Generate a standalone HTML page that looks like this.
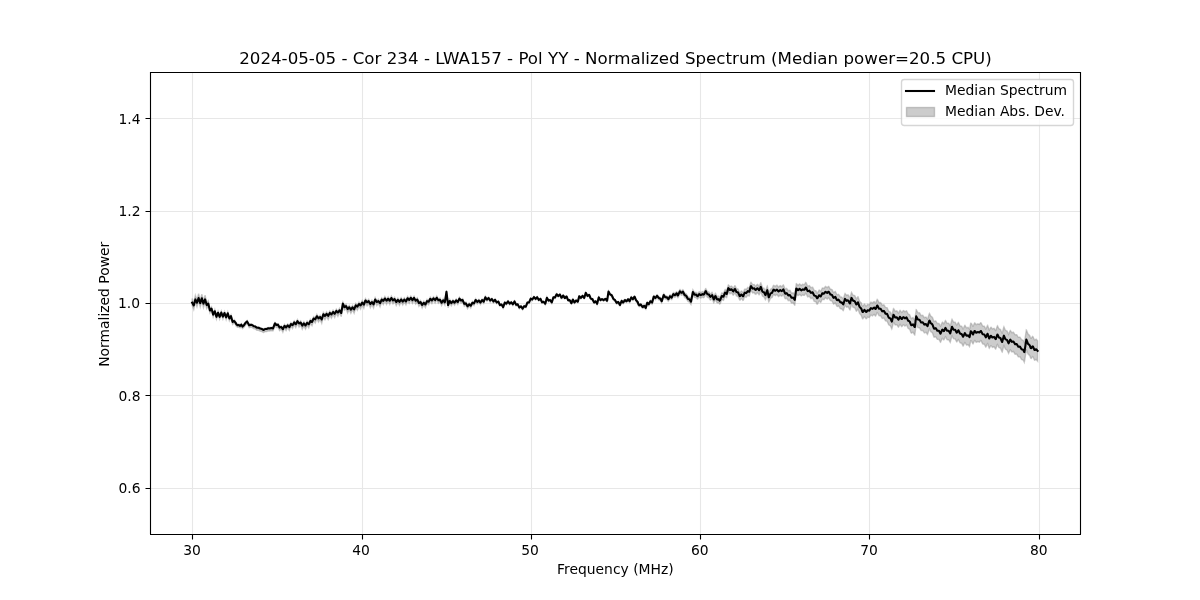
<!DOCTYPE html>
<html><head><meta charset="utf-8"><title>Normalized Spectrum</title>
<style>html,body{margin:0;padding:0;background:#fff;width:1200px;height:600px;overflow:hidden}svg{display:block;will-change:transform}</style>
</head><body>
<svg width="1200" height="600" viewBox="0 0 1200 600">
<rect x="0" y="0" width="1200" height="600" fill="#fff"/>
<path d="M192.5 72V534 M362.5 72V534 M531.5 72V534 M700.5 72V534 M869.5 72V534 M1039.5 72V534 M150 488.5H1080 M150 395.5H1080 M150 303.5H1080 M150 211.5H1080 M150 118.5H1080" fill="none" stroke="#b0b0b0" stroke-opacity="0.3" stroke-width="1.11"/>
<path d="M192.12 298.4 L193.74 302.63 L195.36 295.22 L196.98 299.95 L198.6 293.79 L200.22 300.27 L201.84 294.13 L203.46 300.8 L205.08 295.21 L206.7 302.54 L208.32 300.76 L209.94 309.14 L211.56 306.81 L213.18 313.43 L214.8 309.44 L216.42 315.64 L218.04 311 L219.66 315.68 L221.28 310.9 L222.9 315.61 L224.52 311.43 L226.14 316.27 L227.76 311.77 L229.38 317.52 L231 314.73 L232.62 320.96 L234.24 319.64 L235.86 322.1 L236.25 323.12 L237.48 324.06 L238.3 323.89 L239.1 324.09 L240 324.75 L240.72 324.24 L241.25 323.61 L242.34 325.19 L242.5 325.5 L243.96 324.16 L245 322.69 L245.58 321.87 L247.1 320.45 L247.2 320.68 L248.82 323.5 L249.2 324.35 L250.44 324.05 L250.8 323.79 L252.06 324.1 L253.3 325.02 L253.68 325.31 L255.3 325.74 L256.7 326.8 L256.92 326.91 L258.54 326.93 L260 327.66 L260.16 327.77 L261.78 328.09 L263.3 329.14 L263.4 329.13 L265.02 328.21 L266.64 328.09 L266.7 328.06 L268.26 327.4 L269.88 327.51 L270 327.46 L271.5 327.12 L272.9 327.56 L273.12 327.18 L274.74 322.9 L275 322.46 L276.36 324.04 L277.5 323.72 L277.98 323.67 L279.6 326.78 L281.22 325.65 L282.84 328.31 L284.46 324.46 L286.08 326.49 L287.7 323.9 L289.32 326.17 L290.94 322.46 L292.56 324.14 L294.18 320.8 L295.8 323.1 L297.42 319.48 L299.04 322.32 L300.66 320.81 L302.28 324.4 L303.9 321.66 L305.52 324.32 L307.14 321.1 L308.76 323.13 L310.38 319.18 L312 320.78 L313.62 316.66 L315.24 318.13 L316.86 314.37 L318.48 317.13 L320.1 315.15 L321.72 318.29 L323.34 312.36 L324.96 314.66 L326.58 311.93 L328.2 314.57 L329.82 311.04 L331.44 313.24 L333.06 310.07 L334.68 312.53 L336.3 309.05 L337.92 311.31 L339.54 308.35 L341.16 311.48 L341.25 311.48 L342.78 302.45 L342.9 302.06 L344.4 305.56 L344.6 305.48 L346.02 304.1 L347.64 307.85 L349.26 305.34 L350.88 308.33 L352.5 305.37 L354.12 308.2 L355.74 303.47 L357.36 305.3 L358.98 302.06 L360.6 304.14 L362.22 300.63 L363.84 303.45 L365.46 298.53 L367.08 301.01 L368.7 299.27 L370.32 302.84 L371.94 300.22 L373.56 303.03 L375.18 297.61 L376.8 300.71 L378.42 299.2 L380.04 301.96 L381.66 297.73 L383.28 299.66 L384.9 296.57 L386.52 299.49 L388.14 296.86 L389.76 299.49 L391.38 296.1 L393 299.14 L394.62 297.29 L396.24 300.76 L397.86 298.07 L399.48 300.71 L401.1 297.63 L402.72 300.42 L404.34 297.77 L405.96 300.24 L407.58 296.45 L409.2 298.68 L410.82 296.02 L412.44 298.94 L414.06 296.15 L415.68 299.53 L417.3 297.79 L418.92 301.84 L420.54 300.32 L422.16 303.76 L423.78 301.01 L425.4 303.26 L427.02 299.39 L428.64 300.58 L430.26 297.13 L431.88 299.33 L433.5 296.66 L435.12 299 L436.74 296.05 L438.36 299.19 L439.98 298.13 L441.6 301.64 L443.22 298.72 L444.84 301.22 L446.46 290.29 L448.08 303.93 L449.7 299.41 L451.32 301.99 L452.94 299.58 L454.56 301.57 L456.18 298.87 L457.8 300.97 L459.42 297.11 L461.04 299.53 L462.66 298.6 L464.28 302.84 L465.9 301.92 L467.52 305.29 L469.14 302.84 L470.76 304.76 L472.38 301.34 L474 302.45 L475.62 298.73 L477.24 301.04 L478.86 299.26 L480.48 301.75 L482.1 298.92 L483.72 300.93 L485.34 296.2 L486.96 298.84 L488.58 297 L490.2 299.88 L491.82 298.11 L493.44 300.94 L495.06 298.98 L496.68 301.9 L498.3 300.8 L499.92 304.5 L501.54 303.72 L503.16 306.62 L504.78 301.88 L506.4 303.22 L508.02 300.73 L509.64 303.2 L511.26 301.57 L512.88 303.83 L514.5 300.73 L516.12 304.29 L517.74 303.63 L519.36 307.04 L520.98 305.58 L522.6 308.12 L524.22 305.43 L525.84 306.17 L527.46 301.75 L529.08 301.91 L530.7 297.94 L532.32 299.01 L533.94 296.3 L535.56 298.45 L537.18 296.44 L538.8 299.43 L540.42 298.08 L542.04 301.71 L543.66 301.12 L545.28 303.28 L546.9 297.02 L548.52 300.11 L550.14 299.37 L551.76 301.82 L553.38 296.68 L555 296.93 L556.62 293.56 L558.24 295.54 L559.86 293.84 L561.48 297.15 L561.7 297.17 L563.1 294.91 L563.3 295.02 L564.72 297.46 L565 297.39 L566.34 295.9 L566.7 296.13 L567.96 299.39 L568.3 299.74 L569.58 299.48 L570 299.96 L571.2 302.38 L571.5 302.61 L572.82 299.07 L572.9 298.95 L574.44 301.8 L574.6 301.9 L576.06 299.85 L576.25 299.82 L577.68 301.09 L577.9 301.01 L579.2 295.66 L579.3 295.65 L580.8 297.33 L580.92 297.31 L582.5 295.17 L582.54 295.18 L584.16 297.37 L584.2 297.38 L585.78 292.25 L585.8 292.21 L587.4 295.18 L587.5 295.24 L589.02 294.3 L589.2 294.41 L590.64 297.65 L591.25 298.27 L592.26 298.34 L592.5 298.65 L593.88 301.53 L594.2 301.8 L595.5 300.67 L595.8 300.79 L597.1 303.19 L597.12 303.13 L598.74 296.83 L598.75 296.81 L600.36 299.46 L600.4 299.47 L601.98 298.48 L602.5 298.8 L603.6 299.46 L604.6 298.84 L605.22 298.24 L605.8 298.4 L606.84 299.99 L607.1 300.07 L608.46 291.15 L608.5 290.94 L610 293.5 L610.08 293.64 L611.7 294.56 L612.1 295.28 L613.32 297.96 L614.2 298.81 L614.94 299.21 L616.56 302.07 L616.7 302.15 L618.18 301.22 L618.3 301.29 L619.8 304.05 L620 304.18 L621.42 300.49 L621.7 300.11 L623.04 301.63 L623.3 301.61 L624.66 299.39 L625 299.26 L626.28 300.34 L626.7 300.17 L627.9 298.52 L628.3 298.46 L629.52 300.33 L629.6 300.35 L631.14 296.68 L631.25 296.56 L632.76 298.25 L632.9 298.23 L634.38 295.87 L634.6 295.79 L636 299.11 L636.7 299.9 L637.62 301.03 L638.75 303.81 L639.24 304.2 L640.8 303.53 L640.86 303.54 L642.48 305.84 L642.9 305.91 L644.1 304.84 L644.6 305.01 L645.72 306.86 L645.8 306.89 L647.1 301.88 L647.34 301.79 L648.75 303.03 L648.96 302.9 L650.4 300.21 L650.58 300.14 L652.1 301.42 L652.2 301.17 L653.75 295.51 L653.82 295.48 L655.4 296.82 L655.44 296.82 L657.06 294.61 L657.1 294.6 L658.68 296.76 L658.75 296.77 L660 297.24 L660.3 297.4 L661.7 299.91 L661.92 299.46 L663.54 294.14 L663.75 293.71 L665.16 295.7 L665.8 295.82 L666.78 295.83 L668.3 297.72 L668.4 297.66 L670 294.69 L670.02 294.68 L671.64 296.01 L671.7 295.98 L673.26 292.53 L673.3 292.49 L674.88 293.42 L675.4 293.08 L676.5 291.64 L676.7 291.63 L677.9 293.58 L678.12 293.37 L679.74 289.77 L680 289.51 L681.36 290.95 L681.7 290.88 L682.9 289.71 L682.98 289.76 L684.6 292.95 L685 293.24 L686.22 293.83 L687.84 296.62 L688.3 296.85 L689.46 297.17 L691 299.49 L691.08 299.17 L692.7 290.66 L692.9 289.85 L694.32 292.1 L695 292.34 L695.94 292.18 L697.5 293.84 L697.56 293.84 L699.18 291.64 L699.2 291.64 L700.8 292.6 L701.25 292.3 L702.42 291.49 L703.3 292.07 L704.04 291.72 L705.66 288.61 L705.8 288.55 L707.28 291.43 L707.9 291.66 L708.9 291.78 L710 293.75 L710.52 294.08 L712.1 292.33 L712.14 292.37 L713.75 296.6 L713.76 296.59 L715.38 293.14 L715.4 293.13 L717 296.38 L717.5 296.53 L718.62 296.17 L719.6 297.56 L720.24 296.97 L721.7 293.1 L721.86 292.91 L723.3 293.71 L723.48 293.55 L725 289.56 L725.1 289.47 L726.7 290.82 L726.72 290.78 L728.3 284.88 L728.34 284.86 L729.96 286.77 L730.8 286.3 L731.58 285.98 L733.2 288.12 L733.3 288.08 L734.82 285.66 L735 285.68 L736.44 288.56 L737.5 288.85 L738.06 289.09 L739.68 292.59 L740 292.72 L741.3 290.96 L741.7 291.1 L742.92 292.74 L743.3 292.59 L744.54 289.37 L745 288.97 L746.16 289.5 L747.1 288.31 L747.78 287.43 L749.2 288.05 L749.4 287.65 L750.8 282.42 L751.02 282.37 L752.64 284.76 L753.3 284.6 L754.26 284.48 L755 285.66 L755.88 286.05 L757.1 284.47 L757.5 284.27 L759.12 286.29 L759.2 286.25 L760.74 282.86 L760.8 282.83 L762.36 287.26 L762.9 287.86 L763.98 288.15 L765.4 290.99 L765.6 290.76 L767.22 286.08 L767.3 285.99 L768.75 293.1 L768.84 293.05 L770.46 289.28 L770.8 289.07 L772.08 288.43 L773.3 285.71 L773.7 285.29 L775.32 286.39 L775.8 285.89 L776.94 285.24 L778.3 286.82 L778.56 287.04 L780.18 285.6 L780.8 286.12 L781.8 286.63 L783.3 284.82 L783.42 284.9 L785.04 288.81 L785.4 289.05 L786.66 288.47 L787.5 289.54 L788.28 290.69 L789.9 290.29 L790 290.44 L791.52 292.99 L792.5 292.94 L793.14 292.73 L794.76 295.01 L794.8 295 L796.25 283.71 L796.38 283.62 L798 285.29 L798.3 285.08 L799.62 283.91 L800.8 284.91 L801.24 285.36 L802.86 284.2 L803.3 284.65 L804.48 284.62 L805.7 282.49 L806.1 282.69 L807.5 285.83 L807.72 286.14 L809.34 285.56 L810 286.47 L810.96 287.75 L812.5 287.14 L812.58 287.17 L814.2 290.43 L815 290.66 L815.82 290.76 L817.1 293.14 L817.44 293.09 L819.06 290.05 L819.2 290.03 L820.68 291.29 L820.8 291.19 L822.3 288.07 L822.5 288 L823.92 288.5 L825 287.02 L825.54 286.48 L827.16 287.67 L828.3 286.53 L828.78 286.52 L830.4 289.26 L830.8 289.25 L832.02 289.6 L833.3 292.17 L833.64 292.53 L835.26 291.42 L835.4 291.57 L836.88 294.59 L837.5 294.79 L838.5 294.3 L839.6 295.65 L840.12 296.76 L841.25 297.21 L841.74 297 L843.2 298.88 L843.36 298.65 L844.98 293.5 L845 293.47 L846.6 295.35 L847.5 294.85 L848.22 294.94 L849.84 297.94 L850 297.96 L851.46 292.39 L851.5 292.3 L853.08 295.22 L854 295.32 L854.7 295.55 L856.32 298.86 L856.5 298.91 L857.94 296.68 L858 296.69 L859.56 301.13 L860.5 302.18 L861.18 302.77 L862.5 306.19 L862.8 306.29 L864.42 304.05 L864.5 304.08 L866.04 306.15 L866.5 305.97 L867.66 304.37 L868.5 304.66 L869.28 304.73 L870.5 302.74 L870.9 302.22 L872.52 302.94 L873 302.33 L874.14 301.55 L875.5 302.97 L875.76 302.8 L877.2 299.41 L877.38 299.45 L879 302.58 L879.5 302.68 L880.62 302.58 L882 304.85 L882.24 305.2 L883.86 304.74 L884.5 305.66 L885.48 307.47 L887 307.65 L887.1 307.7 L888.72 311.33 L889.5 311.74 L890.34 312.09 L891.8 315.23 L891.96 314.84 L893.5 308.5 L893.58 308.49 L895.2 311.16 L896 311.09 L896.82 310.86 L898.44 313.2 L898.5 313.18 L900 310.35 L900.06 310.33 L901.68 312.51 L902 312.38 L903.3 310.58 L904 310.82 L904.92 311.79 L906.5 310.7 L906.54 310.72 L908.16 314.03 L909 314.29 L909.78 314.97 L911 318.13 L911.4 318.57 L913 317.56 L913.02 317.56 L914.64 320.27 L914.8 320.27 L916.2 309.53 L916.26 309.54 L917.88 312.64 L919 312.85 L919.5 312.83 L921.12 315.54 L922 315.5 L922.74 315.29 L924.36 317.63 L924.5 317.59 L925.98 317.02 L927.5 319.06 L927.6 318.92 L929.22 313.85 L929.5 313.45 L930.84 316.26 L931.5 316.5 L932.46 317.38 L934 321.45 L934.08 321.56 L935.7 320.94 L936 321.34 L937.32 323.51 L938.5 323.41 L938.94 323.46 L940.5 326.34 L940.56 326.3 L942.18 322.44 L942.5 322.23 L943.8 323.76 L944 323.65 L945.42 320.5 L945.5 320.46 L947.04 323.3 L947.3 323.33 L948.66 323.23 L950.25 325.87 L950.28 325.8 L951.9 319.46 L952 319.24 L953.52 322.07 L954.3 322.17 L955.14 322.25 L956.7 325.09 L956.76 325.1 L958.38 322.51 L958.4 322.52 L960 325.83 L960.75 326.09 L961.62 326.21 L963.1 328.96 L963.24 328.88 L964.8 325.3 L964.86 325.29 L966.48 327.86 L967.2 327.76 L968.1 327.42 L969.5 329.29 L969.72 328.51 L970.7 323.36 L971.34 323.43 L972.96 326.41 L973 326.41 L974.58 322.93 L974.75 322.85 L976.2 324.66 L977.7 323.94 L977.82 323.77 L979.44 324.35 L980.6 322.76 L981.06 322.85 L982.68 325.98 L982.9 326.02 L984.3 326.2 L985.8 328.99 L985.92 328.93 L987.54 325.38 L987.6 325.35 L989.16 329.87 L989.3 330.04 L990.78 327.32 L991.1 327.29 L992.4 329 L993.4 328.59 L994.02 328.36 L995.64 330.55 L995.75 330.51 L997.26 326.15 L997.5 325.87 L998.88 328.77 L999.8 329.11 L1000.5 329.5 L1002.12 333.2 L1002.2 333.25 L1003.74 327.15 L1003.9 326.79 L1005.36 330.17 L1006.25 330.7 L1006.98 330.94 L1008.6 334.28 L1010.22 330.58 L1010.3 330.53 L1011.84 332.7 L1013.3 332.24 L1013.46 332.22 L1015.08 334.85 L1016.2 334.72 L1016.7 334.69 L1018.32 337.37 L1019.1 337.31 L1019.94 337.17 L1021.4 339.46 L1021.56 339.78 L1023.18 340.28 L1024.3 342.56 L1024.8 340.06 L1026.3 329.97 L1026.42 330.06 L1028.04 334.1 L1028.4 334.37 L1029.66 335.41 L1030.75 338.19 L1031.28 338.29 L1032.5 336.43 L1032.9 336.57 L1034.52 339.95 L1034.8 340.05 L1036.14 339.18 L1037.6 340.75 L1037.6 361.14 L1036.14 359.51 L1034.8 360.32 L1034.52 360.21 L1032.9 356.75 L1032.5 356.59 L1031.28 358.4 L1030.75 358.27 L1029.66 355.44 L1028.4 354.35 L1028.04 354.06 L1026.42 349.95 L1026.3 349.85 L1024.8 359.87 L1024.3 362.35 L1023.18 360.02 L1021.56 359.45 L1021.4 359.12 L1019.94 356.77 L1019.1 356.87 L1018.32 356.89 L1016.7 354.14 L1016.2 354.15 L1015.08 354.22 L1013.46 351.53 L1013.3 351.54 L1011.84 351.94 L1010.3 349.7 L1010.22 349.74 L1008.6 353.36 L1006.98 349.95 L1006.25 349.68 L1005.36 349.11 L1003.9 345.67 L1003.74 346.02 L1002.2 352.05 L1002.12 352 L1000.5 348.22 L999.8 347.8 L998.88 347.42 L997.5 344.46 L997.26 344.73 L995.75 349.02 L995.64 349.06 L994.02 346.8 L993.4 347 L992.4 347.37 L991.1 345.6 L990.78 345.62 L989.3 348.27 L989.16 348.09 L987.6 343.5 L987.54 343.53 L985.92 347.01 L985.8 347.06 L984.3 344.21 L982.9 343.97 L982.68 343.91 L981.06 340.72 L980.6 340.61 L979.44 342.15 L977.82 341.5 L977.7 341.66 L976.2 342.31 L974.75 340.44 L974.58 340.52 L973 343.93 L972.96 343.92 L971.34 340.87 L970.7 340.77 L969.72 345.88 L969.5 346.65 L968.1 344.71 L967.2 345.02 L966.48 345.09 L964.86 342.44 L964.8 342.45 L963.24 345.97 L963.1 346.04 L961.62 343.22 L960.75 343.07 L960 342.77 L958.4 339.39 L958.38 339.38 L956.76 341.89 L956.7 341.88 L955.14 338.98 L954.3 338.86 L953.52 338.72 L952 335.83 L951.9 336.04 L950.28 342.31 L950.25 342.38 L948.66 339.67 L947.3 339.69 L947.04 339.65 L945.5 336.73 L945.42 336.77 L944 339.85 L943.8 339.95 L942.5 338.35 L942.18 338.55 L940.56 342.33 L940.5 342.36 L938.94 339.41 L938.5 339.34 L937.32 339.38 L936 337.14 L935.7 336.72 L934.08 337.26 L934 337.15 L932.46 333 L931.5 332.07 L930.84 331.8 L929.5 328.93 L929.22 329.31 L927.6 334.3 L927.5 334.44 L925.98 332.32 L924.5 332.81 L924.36 332.85 L922.74 330.43 L922 330.6 L921.12 330.6 L919.5 327.8 L919 327.8 L917.88 327.54 L916.26 324.35 L916.2 324.34 L914.8 335.01 L914.64 335.01 L913.02 332.21 L913 332.21 L911.4 333.14 L911 332.68 L909.78 329.46 L909 328.74 L908.16 328.44 L906.54 325.04 L906.5 325.03 L904.92 326.03 L904 325.02 L903.3 324.75 L902 326.48 L901.68 326.59 L900.06 324.33 L900 324.35 L898.5 327.12 L898.44 327.13 L896.82 324.73 L896 324.93 L895.2 324.96 L893.58 322.24 L893.5 322.24 L891.96 328.52 L891.8 328.9 L890.34 325.7 L889.5 325.32 L888.72 324.88 L887.1 321.18 L887 321.13 L885.48 320.89 L884.5 319.04 L883.86 318.09 L882.24 318.49 L882 318.13 L880.62 315.81 L879.5 315.86 L879 315.74 L877.38 312.54 L877.2 312.5 L875.76 315.83 L875.5 315.99 L874.14 314.51 L873 315.25 L872.52 315.84 L870.9 315.06 L870.5 315.56 L869.28 317.5 L868.5 317.4 L867.66 317.07 L866.5 318.63 L866.04 318.79 L864.5 316.66 L864.42 316.63 L862.8 318.81 L862.5 318.69 L861.18 315.21 L860.5 314.6 L859.56 313.51 L858 309.01 L857.94 309 L856.5 311.17 L856.32 311.11 L854.7 307.73 L854 307.48 L853.08 307.34 L851.5 304.36 L851.46 304.45 L850 309.96 L849.84 309.94 L848.22 306.88 L847.5 306.77 L846.6 307.24 L845 305.32 L844.98 305.35 L843.36 310.45 L843.2 310.68 L841.74 308.75 L841.25 308.95 L840.12 308.46 L839.6 307.34 L838.5 305.95 L837.5 306.41 L836.88 306.2 L835.4 303.13 L835.26 302.98 L833.64 304.04 L833.3 303.67 L832.02 301.06 L830.8 300.67 L830.4 300.67 L828.78 297.88 L828.3 297.88 L827.16 298.98 L825.54 297.75 L825 298.27 L823.92 299.72 L822.5 299.17 L822.3 299.24 L820.8 302.31 L820.68 302.41 L819.2 301.1 L819.06 301.12 L817.44 304.11 L817.1 304.15 L815.82 301.74 L815 301.61 L814.2 301.36 L812.58 298.04 L812.5 298.02 L810.96 298.58 L810 297.27 L809.34 296.34 L807.72 296.87 L807.5 296.56 L806.1 293.38 L805.7 293.16 L804.48 295.26 L803.3 295.25 L802.86 294.79 L801.24 295.9 L800.8 295.44 L799.62 294.39 L798.3 295.5 L798 295.69 L796.38 293.93 L796.25 294.02 L794.8 305.24 L794.76 305.25 L793.14 302.89 L792.5 303.07 L791.52 303.06 L790 300.44 L789.9 300.28 L788.28 300.61 L787.5 299.41 L786.66 298.31 L785.4 298.82 L785.04 298.56 L783.42 294.57 L783.3 294.49 L781.8 296.22 L780.8 295.66 L780.18 295.1 L778.56 296.46 L778.3 296.23 L776.94 294.59 L775.8 295.18 L775.32 295.66 L773.7 294.48 L773.3 294.88 L772.08 297.54 L770.8 298.11 L770.46 298.3 L768.84 301.99 L768.75 302.04 L767.3 294.85 L767.22 294.94 L765.6 299.54 L765.4 299.76 L763.98 296.85 L762.9 296.51 L762.36 295.88 L760.8 291.37 L760.74 291.4 L759.2 294.71 L759.12 294.75 L757.5 292.65 L757.1 292.82 L755.88 294.34 L755 293.91 L754.26 292.69 L753.3 292.76 L752.64 292.89 L751.02 290.42 L750.8 290.46 L749.4 295.62 L749.2 296.01 L747.78 295.32 L747.1 296.17 L746.16 297.31 L745 296.72 L744.54 297.1 L743.3 300.25 L742.92 300.38 L741.7 298.69 L741.3 298.52 L740 300.22 L739.68 300.07 L738.06 296.49 L737.5 296.22 L736.44 295.88 L735 292.93 L734.82 292.9 L733.3 295.25 L733.2 295.28 L731.58 293.06 L730.8 293.34 L729.96 293.76 L728.34 291.77 L728.3 291.79 L726.72 297.61 L726.7 297.65 L725.1 296.23 L725 296.31 L723.48 300.22 L723.3 300.38 L721.86 299.5 L721.7 299.68 L720.24 303.48 L719.6 304.04 L718.62 302.61 L717.5 302.91 L717 302.73 L715.4 299.4 L715.38 299.41 L713.76 302.78 L713.75 302.79 L712.14 298.48 L712.1 298.44 L710.52 300.1 L710 299.75 L708.9 297.72 L707.9 297.55 L707.28 297.29 L705.8 294.34 L705.66 294.39 L704.04 297.42 L703.3 297.73 L702.42 297.11 L701.25 297.86 L700.8 298.14 L699.2 297.09 L699.18 297.09 L697.56 299.18 L697.5 299.19 L695.94 297.43 L695 297.53 L694.32 297.25 L692.9 294.91 L692.7 295.7 L691.08 304.11 L691 304.43 L689.46 302.01 L688.3 301.62 L687.84 301.36 L686.22 298.47 L685 297.8 L684.6 297.49 L682.98 294.2 L682.9 294.14 L681.7 295.24 L681.36 295.28 L680 293.76 L679.74 294 L678.12 297.5 L677.9 297.7 L676.7 295.67 L676.5 295.68 L675.4 297.04 L674.88 297.35 L673.3 296.32 L673.26 296.36 L671.7 299.71 L671.64 299.74 L670.02 298.31 L670 298.31 L668.4 301.18 L668.3 301.24 L666.78 299.25 L665.8 299.18 L665.16 299.02 L663.75 296.94 L663.54 297.36 L661.92 302.58 L661.7 303.02 L660.3 300.42 L660 300.24 L658.75 299.74 L658.68 299.73 L657.1 297.54 L657.06 297.54 L655.44 299.71 L655.4 299.71 L653.82 298.33 L653.75 298.36 L652.2 303.99 L652.1 304.23 L650.58 302.92 L650.4 302.98 L648.96 305.64 L648.75 305.77 L647.34 304.5 L647.1 304.58 L645.8 309.56 L645.72 309.53 L644.6 307.65 L644.1 307.47 L642.9 308.51 L642.48 308.43 L640.86 306.09 L640.8 306.08 L639.24 306.72 L638.75 306.31 L637.62 303.51 L636.7 302.36 L636 301.55 L634.6 298.2 L634.38 298.27 L632.9 300.6 L632.76 300.61 L631.25 298.88 L631.14 299.01 L629.6 302.65 L629.52 302.62 L628.3 300.72 L627.9 300.77 L626.7 302.4 L626.28 302.55 L625 301.44 L624.66 301.57 L623.3 303.75 L623.04 303.77 L621.7 302.21 L621.42 302.59 L620 306.24 L619.8 306.12 L618.3 303.32 L618.18 303.24 L616.7 304.14 L616.56 304.06 L614.94 301.16 L614.2 300.75 L613.32 299.87 L612.1 297.16 L611.7 296.43 L610.08 295.48 L610 295.33 L608.5 292.74 L608.46 292.95 L607.1 301.83 L606.84 301.75 L605.8 300.14 L605.22 299.96 L604.6 300.54 L603.6 301.15 L602.5 300.45 L601.98 300.13 L600.4 301.08 L600.36 301.06 L598.75 298.41 L598.74 298.43 L597.12 304.73 L597.1 304.79 L595.8 302.39 L595.5 302.27 L594.2 303.4 L593.88 303.13 L592.5 300.25 L592.26 299.94 L591.25 299.87 L590.64 299.25 L589.2 296.01 L589.02 295.9 L587.5 296.84 L587.4 296.78 L585.8 293.81 L585.78 293.85 L584.2 298.98 L584.16 298.97 L582.54 296.78 L582.5 296.77 L580.92 298.91 L580.8 298.93 L579.3 297.25 L579.2 297.26 L577.9 302.61 L577.68 302.69 L576.25 301.42 L576.06 301.45 L574.6 303.5 L574.44 303.4 L572.9 300.55 L572.82 300.67 L571.5 304.21 L571.2 303.98 L570 301.56 L569.58 301.08 L568.3 301.34 L567.96 300.99 L566.7 297.73 L566.34 297.5 L565 298.99 L564.72 299.06 L563.3 296.62 L563.1 296.51 L561.7 298.77 L561.48 298.75 L559.86 295.36 L558.24 297.22 L556.62 295.08 L555 298.61 L553.38 298.2 L551.76 303.5 L550.14 300.89 L548.52 301.79 L546.9 298.54 L545.28 304.96 L543.66 302.64 L542.04 303.39 L540.42 299.6 L538.8 301.11 L537.18 297.96 L535.56 300.13 L533.94 297.82 L532.32 300.69 L530.7 299.46 L529.08 303.59 L527.46 303.27 L525.84 307.85 L524.22 306.95 L522.6 309.8 L520.98 307.1 L519.36 308.72 L517.74 305.15 L516.12 305.97 L514.5 302.25 L512.88 305.51 L511.26 303.09 L509.64 304.88 L508.02 302.25 L506.4 304.9 L504.78 303.4 L503.16 308.3 L501.54 305.24 L499.92 306.18 L498.3 302.41 L496.68 303.77 L495.06 300.75 L493.44 302.98 L491.82 300.04 L490.2 302.11 L488.58 299.1 L486.96 301.25 L485.34 298.46 L483.72 303.52 L482.1 301.34 L480.48 304.52 L478.86 301.85 L477.24 304 L475.62 301.49 L474 305.59 L472.38 304.26 L470.76 308.08 L469.14 305.9 L467.52 308.7 L465.9 305.04 L464.28 306.33 L462.66 301.77 L461.04 303.08 L459.42 300.35 L457.8 304.6 L456.18 302.16 L454.56 305.27 L452.94 302.93 L451.32 305.75 L449.7 302.83 L448.08 307.77 L446.46 293.76 L444.84 305.12 L443.22 302.26 L441.6 305.61 L439.98 301.73 L438.36 303.23 L436.74 299.7 L435.12 303.11 L433.5 300.37 L431.88 303.51 L430.26 300.9 L428.64 304.84 L427.02 303.22 L425.4 307.58 L423.78 304.9 L422.16 308.15 L420.54 304.27 L418.92 306.29 L417.3 301.78 L415.68 304.02 L414.06 300.16 L412.44 303.46 L410.82 300.06 L409.2 303.24 L407.58 300.53 L405.96 304.84 L404.34 301.87 L402.72 305.05 L401.1 301.76 L399.48 305.37 L397.86 302.23 L396.24 305.46 L394.62 301.48 L393 303.88 L391.38 300.32 L389.76 304.26 L388.14 301.11 L386.52 304.3 L384.9 300.85 L383.28 304.5 L381.66 302.03 L380.04 306.84 L378.42 303.53 L376.8 305.61 L375.18 301.95 L373.56 307.95 L371.94 304.58 L370.32 307.78 L368.7 303.64 L367.08 305.97 L365.46 302.9 L363.84 308.42 L362.22 305.02 L360.6 309.14 L358.98 306.47 L357.36 310.32 L355.74 307.89 L354.12 313.24 L352.5 309.8 L350.88 313.38 L349.26 309.78 L347.64 312.93 L346.02 308.55 L344.6 310.26 L344.4 310.33 L342.9 306.85 L342.78 307.23 L341.25 316.27 L341.16 316.27 L339.54 312.83 L337.92 316.41 L336.3 313.5 L334.68 317.61 L333.06 314.5 L331.44 318.29 L329.82 315.45 L328.2 319.59 L326.58 316.32 L324.96 319.66 L323.34 316.72 L321.72 323.26 L320.1 319.49 L318.48 322.08 L316.86 318.69 L315.24 323.06 L313.62 320.95 L312 325.68 L310.38 323.45 L308.76 328 L307.14 325.35 L305.52 329.16 L303.9 325.88 L302.28 329.22 L300.66 325.02 L299.04 327.08 L297.42 323.56 L295.8 327.71 L294.18 324.73 L292.56 328.6 L290.94 326.25 L289.32 330.48 L287.7 327.55 L286.08 330.66 L284.46 327.96 L282.84 332.33 L281.22 329 L279.6 330.66 L277.98 327.17 L277.5 327.22 L276.36 327.53 L275 325.95 L274.74 326.38 L273.12 330.65 L272.9 331.03 L271.5 330.59 L270 330.91 L269.88 330.97 L268.26 330.84 L266.7 331.5 L266.64 331.53 L265.02 331.64 L263.4 332.55 L263.3 332.56 L261.78 331.5 L260.16 331.17 L260 331.06 L258.54 330.31 L256.92 330.27 L256.7 330.16 L255.3 329.07 L253.68 328.62 L253.3 328.33 L252.06 327.39 L250.8 327.07 L250.44 327.33 L249.2 327.61 L248.82 326.75 L247.2 323.91 L247.1 323.68 L245.58 325.07 L245 325.89 L243.96 327.36 L242.5 328.7 L242.34 328.39 L241.25 326.81 L240.72 327.44 L240 327.95 L239.1 327.29 L238.3 327.09 L237.48 327.26 L236.25 326.32 L235.86 325.3 L234.24 322.66 L232.62 324.32 L231 317.79 L229.38 320.92 L227.76 314.9 L226.14 319.71 L224.52 314.64 L222.9 319.1 L221.28 314.18 L219.66 319.22 L218.04 314.35 L216.42 319.23 L214.8 312.86 L213.18 317.07 L211.56 310.3 L209.94 312.86 L208.32 305.64 L206.7 308.66 L205.08 301.98 L203.46 307.51 L201.84 300.96 L200.22 307.06 L198.6 300.68 L196.98 306.82 L195.36 302.16 L193.74 309.59 L192.12 305.4 Z" fill="#808080" fill-opacity="0.4" stroke="#808080" stroke-opacity="0.4" stroke-width="1.39" stroke-linejoin="miter"/>
<path d="M192.12 302.6 L193.74 305.43 L195.36 299.42 L196.98 302.75 L198.6 297.99 L200.22 303.07 L201.84 298.33 L203.46 303.6 L205.08 299.41 L206.7 305.08 L208.32 303.64 L209.94 310.44 L211.56 308.7 L213.18 314.67 L214.8 311.26 L216.42 316.83 L218.04 312.75 L219.66 316.82 L221.28 312.58 L222.9 316.7 L224.52 313.04 L226.14 317.31 L227.76 313.3 L229.38 318.52 L231 316.19 L232.62 321.91 L234.24 321.04 L235.86 323.24 L236.25 324.25 L237.48 325.18 L238.3 325 L239.1 325.18 L240 325.82 L240.72 325.31 L241.25 324.67 L242.34 326.23 L242.5 326.54 L243.96 325.18 L245 323.69 L245.58 322.86 L247.1 321.43 L247.2 321.65 L248.82 324.45 L249.2 325.29 L250.44 324.98 L250.8 324.71 L252.06 325 L253.3 325.91 L253.68 326.19 L255.3 326.6 L256.7 327.65 L256.92 327.75 L258.54 327.75 L260 328.46 L260.16 328.57 L261.78 328.91 L263.3 329.98 L263.4 329.97 L265.02 329.07 L266.64 328.97 L266.7 328.94 L268.26 328.29 L269.88 328.42 L270 328.37 L271.5 328.05 L272.9 328.5 L273.12 328.12 L274.74 323.87 L275 323.43 L276.36 325.02 L277.5 324.72 L277.98 324.66 L279.6 327.61 L281.22 326.94 L282.84 329.19 L284.46 325.84 L286.08 327.44 L287.7 325.37 L289.32 327.17 L290.94 324.02 L292.56 325.21 L294.18 322.44 L295.8 324.23 L297.42 321.21 L299.04 323.5 L300.66 322.61 L302.28 325.61 L303.9 323.47 L305.52 325.53 L307.14 322.92 L308.76 324.34 L310.38 321.01 L312 322 L313.62 318.5 L315.24 319.37 L316.86 316.22 L318.48 318.37 L320.1 317.01 L321.72 319.53 L323.34 314.23 L324.96 315.91 L326.58 313.81 L328.2 315.82 L329.82 312.93 L331.44 314.51 L333.06 311.97 L334.68 313.8 L336.3 310.95 L337.92 312.58 L339.54 310.27 L341.16 313.08 L341.25 313.08 L342.78 304.05 L342.9 303.66 L344.4 307.16 L344.6 307.08 L346.02 306.02 L347.64 309.13 L349.26 307.26 L350.88 309.61 L352.5 307.29 L354.12 309.48 L355.74 305.39 L357.36 306.58 L358.98 303.98 L360.6 305.42 L362.22 302.55 L363.84 304.73 L365.46 300.45 L367.08 302.29 L368.7 301.19 L370.32 304.12 L371.94 302.14 L373.56 304.31 L375.18 299.53 L376.8 301.99 L378.42 301.12 L380.04 303.24 L381.66 299.64 L383.28 300.93 L384.9 298.48 L386.52 300.75 L388.14 298.76 L389.76 300.75 L391.38 297.99 L393 300.4 L394.62 299.17 L396.24 302.01 L397.86 299.94 L399.48 301.95 L401.1 299.48 L402.72 301.66 L404.34 299.62 L405.96 301.47 L407.58 298.29 L409.2 299.91 L410.82 297.85 L412.44 300.15 L414.06 297.96 L415.68 300.74 L417.3 299.6 L418.92 303.04 L420.54 302.11 L422.16 304.95 L423.78 302.78 L425.4 304.43 L427.02 301.14 L428.64 301.74 L430.26 298.85 L431.88 300.47 L433.5 298.36 L435.12 300.12 L436.74 297.73 L438.36 300.3 L439.98 299.79 L441.6 302.74 L443.22 300.36 L444.84 302.3 L446.46 291.9 L448.08 305 L449.7 301 L451.32 303.04 L452.94 301.14 L454.56 302.61 L456.18 300.41 L457.8 301.99 L459.42 298.63 L461.04 300.53 L462.66 300.09 L464.28 303.83 L465.9 303.39 L467.52 306.26 L469.14 304.29 L470.76 305.71 L472.38 302.72 L474 303.35 L475.62 300.04 L477.24 301.89 L478.86 300.49 L480.48 302.54 L482.1 300.07 L483.72 301.67 L485.34 297.27 L486.96 299.53 L488.58 298 L490.2 300.51 L491.82 299.02 L493.44 301.52 L495.06 299.82 L496.68 302.44 L498.3 301.56 L499.92 304.98 L501.54 304.44 L503.16 307.1 L504.78 302.6 L506.4 303.7 L508.02 301.45 L509.64 303.68 L511.26 302.29 L512.88 304.31 L514.5 301.45 L516.12 304.77 L517.74 304.35 L519.36 307.52 L520.98 306.3 L522.6 308.6 L524.22 306.15 L525.84 306.65 L527.46 302.47 L529.08 302.39 L530.7 298.66 L532.32 299.49 L533.94 297.02 L535.56 298.93 L537.18 297.16 L538.8 299.91 L540.42 298.8 L542.04 302.19 L543.66 301.84 L545.28 303.76 L546.9 297.74 L548.52 300.59 L550.14 300.09 L551.76 302.3 L553.38 297.4 L555 297.41 L556.62 294.28 L558.24 296.02 L559.86 294.56 L561.48 297.75 L561.7 297.77 L563.1 295.51 L563.3 295.62 L564.72 298.06 L565 297.99 L566.34 296.5 L566.7 296.73 L567.96 299.99 L568.3 300.34 L569.58 300.08 L570 300.56 L571.2 302.98 L571.5 303.21 L572.82 299.67 L572.9 299.55 L574.44 302.4 L574.6 302.5 L576.06 300.45 L576.25 300.42 L577.68 301.69 L577.9 301.61 L579.2 296.26 L579.3 296.25 L580.8 297.93 L580.92 297.91 L582.5 295.77 L582.54 295.78 L584.16 297.97 L584.2 297.98 L585.78 292.85 L585.8 292.81 L587.4 295.78 L587.5 295.84 L589.02 294.9 L589.2 295.01 L590.64 298.25 L591.25 298.87 L592.26 298.94 L592.5 299.25 L593.88 302.13 L594.2 302.4 L595.5 301.27 L595.8 301.39 L597.1 303.79 L597.12 303.73 L598.74 297.43 L598.75 297.41 L600.36 300.06 L600.4 300.08 L601.98 299.1 L602.5 299.42 L603.6 300.1 L604.6 299.48 L605.22 298.89 L605.8 299.06 L606.84 300.66 L607.1 300.74 L608.46 291.84 L608.5 291.62 L610 294.2 L610.08 294.35 L611.7 295.27 L612.1 296 L613.32 298.7 L614.2 299.56 L614.94 299.96 L616.56 302.84 L616.7 302.91 L618.18 302 L618.3 302.07 L619.8 304.85 L620 304.98 L621.42 301.3 L621.7 300.92 L623.04 302.46 L623.3 302.44 L624.66 300.24 L625 300.11 L626.28 301.2 L626.7 301.04 L627.9 299.4 L628.3 299.35 L629.52 301.23 L629.6 301.25 L631.14 297.59 L631.25 297.47 L632.76 299.18 L632.9 299.16 L634.38 296.81 L634.6 296.74 L636 300.07 L636.7 300.87 L637.62 302.01 L638.75 304.8 L639.24 305.2 L640.8 304.54 L640.86 304.55 L642.48 306.86 L642.9 306.94 L644.1 305.88 L644.6 306.06 L645.72 307.92 L645.8 307.95 L647.1 302.95 L647.34 302.87 L648.75 304.12 L648.96 303.99 L650.4 301.31 L650.58 301.24 L652.1 302.54 L652.2 302.3 L653.75 296.64 L653.82 296.62 L655.4 297.98 L655.44 297.97 L657.06 295.78 L657.1 295.77 L658.68 297.95 L658.75 297.96 L660 298.44 L660.3 298.61 L661.7 301.16 L661.92 300.72 L663.54 295.45 L663.75 295.03 L665.16 297.07 L665.8 297.2 L666.78 297.25 L668.3 299.19 L668.4 299.13 L670 296.21 L670.02 296.2 L671.64 297.59 L671.7 297.56 L673.26 294.16 L673.3 294.12 L674.88 295.1 L675.4 294.78 L676.5 293.38 L676.7 293.37 L677.9 295.36 L678.12 295.15 L679.74 291.61 L680 291.36 L681.36 292.84 L681.7 292.79 L682.9 291.65 L682.98 291.71 L684.6 294.95 L685 295.25 L686.22 295.89 L687.84 298.73 L688.3 298.97 L689.46 299.32 L691 301.7 L691.08 301.38 L692.7 292.92 L692.9 292.12 L694.32 294.42 L695 294.68 L695.94 294.55 L697.5 296.26 L697.56 296.26 L699.18 294.11 L699.2 294.11 L700.8 295.12 L701.25 294.83 L702.42 294.05 L703.3 294.65 L704.04 294.32 L705.66 291.25 L705.8 291.19 L707.28 294.11 L707.9 294.35 L708.9 294.5 L710 296.5 L710.52 296.84 L712.1 295.13 L712.14 295.17 L713.75 299.44 L713.76 299.44 L715.38 296.02 L715.4 296.02 L717 299.3 L717.5 299.47 L718.62 299.14 L719.6 300.55 L720.24 299.97 L721.7 296.14 L721.86 295.95 L723.3 296.79 L723.48 296.64 L725 292.69 L725.1 292.6 L726.7 293.98 L726.72 293.94 L728.3 288.08 L728.34 288.06 L729.96 290.01 L730.8 289.57 L731.58 289.27 L733.2 291.45 L733.3 291.41 L734.82 289.03 L735 289.06 L736.44 291.97 L737.5 292.28 L738.06 292.54 L739.68 296.08 L740 296.22 L741.3 294.49 L741.7 294.65 L742.92 296.31 L743.3 296.17 L744.54 292.98 L745 292.6 L746.16 293.16 L747.1 291.99 L747.78 291.12 L749.2 291.78 L749.4 291.38 L750.8 286.19 L751.02 286.14 L752.64 288.58 L753.3 288.43 L754.26 288.33 L755 289.54 L755.88 289.94 L757.1 288.4 L757.5 288.21 L759.12 290.27 L759.2 290.23 L760.74 286.88 L760.8 286.85 L762.36 291.32 L762.9 291.93 L763.98 292.25 L765.4 295.13 L765.6 294.9 L767.22 290.26 L767.3 290.17 L768.75 297.32 L768.84 297.27 L770.46 293.54 L770.8 293.34 L772.08 292.73 L773.3 290.05 L773.7 289.64 L775.32 290.78 L775.8 290.29 L776.94 289.66 L778.3 291.28 L778.56 291.5 L780.18 290.1 L780.8 290.64 L781.8 291.18 L783.3 289.4 L783.42 289.49 L785.04 293.43 L785.4 293.69 L786.66 293.14 L787.5 294.23 L788.28 295.4 L789.9 295.04 L790 295.19 L791.52 297.78 L792.5 297.75 L793.14 297.56 L794.76 299.88 L794.8 299.87 L796.25 288.61 L796.38 288.53 L798 290.24 L798.3 290.04 L799.62 288.9 L800.8 289.92 L801.24 290.37 L802.86 289.23 L803.3 289.68 L804.48 289.67 L805.7 287.55 L806.1 287.76 L807.5 290.91 L807.72 291.21 L809.34 290.66 L810 291.57 L810.96 292.86 L812.5 292.27 L812.58 292.29 L814.2 295.57 L815 295.81 L815.82 295.92 L817.1 298.31 L817.44 298.26 L819.06 295.24 L819.2 295.22 L820.68 296.5 L820.8 296.4 L822.3 293.29 L822.5 293.22 L823.92 293.74 L825 292.27 L825.54 291.73 L827.16 292.94 L828.3 291.81 L828.78 291.8 L830.4 294.56 L830.8 294.55 L832.02 294.92 L833.3 297.51 L833.64 297.86 L835.26 296.77 L835.4 296.92 L836.88 299.96 L837.5 300.16 L838.5 299.68 L839.6 301.05 L840.12 302.16 L841.25 302.62 L841.74 302.41 L843.2 304.31 L843.36 304.08 L844.98 298.95 L845 298.92 L846.6 300.81 L847.5 300.32 L848.22 300.42 L849.84 303.44 L850 303.46 L851.46 297.92 L851.5 297.83 L853.08 300.78 L854 300.9 L854.7 301.14 L856.32 304.48 L856.5 304.54 L857.94 302.34 L858 302.35 L859.56 306.82 L860.5 307.89 L861.18 308.49 L862.5 311.94 L862.8 312.05 L864.42 309.84 L864.5 309.87 L866.04 311.97 L866.5 311.8 L867.66 310.22 L868.5 310.53 L869.28 310.62 L870.5 308.65 L870.9 308.14 L872.52 308.89 L873 308.29 L874.14 307.53 L875.5 308.98 L875.76 308.82 L877.2 305.46 L877.38 305.5 L879 308.66 L879.5 308.77 L880.62 308.7 L882 310.99 L882.24 311.34 L883.86 310.92 L884.5 311.85 L885.48 313.68 L887 313.89 L887.1 313.94 L888.72 317.61 L889.5 318.03 L890.34 318.4 L891.8 321.56 L891.96 321.18 L893.5 314.87 L893.58 314.86 L895.2 317.56 L896 317.51 L896.82 317.29 L898.44 319.66 L898.5 319.65 L900 316.85 L900.06 316.83 L901.68 319.04 L902 318.92 L903.3 317.15 L904 317.4 L904.92 318.38 L906.5 317.33 L906.54 317.35 L908.16 320.69 L909 320.97 L909.78 321.66 L911 324.85 L911.4 325.3 L913 324.32 L913.02 324.32 L914.64 327.07 L914.8 327.06 L916.2 316.35 L916.26 316.36 L917.88 319.5 L919 319.73 L919.5 319.72 L921.12 322.47 L922 322.44 L922.74 322.24 L924.36 324.62 L924.5 324.58 L925.98 324.04 L927.5 326.11 L927.6 325.97 L929.22 320.93 L929.5 320.54 L930.84 323.38 L931.5 323.63 L932.46 324.53 L934 328.63 L934.08 328.74 L935.7 328.15 L936 328.56 L937.32 330.76 L938.5 330.68 L938.94 330.74 L940.5 333.65 L940.56 333.61 L942.18 329.78 L942.5 329.58 L943.8 331.13 L944 331.03 L945.42 327.91 L945.5 327.87 L947.04 330.74 L947.3 330.78 L948.66 330.71 L950.25 333.37 L950.28 333.31 L951.9 327 L952 326.79 L953.52 329.65 L954.3 329.78 L955.14 329.87 L956.7 332.75 L956.76 332.76 L958.38 330.21 L958.4 330.22 L960 333.57 L960.75 333.85 L961.62 333.99 L963.1 336.78 L963.24 336.7 L964.8 333.15 L964.86 333.15 L966.48 335.76 L967.2 335.68 L968.1 335.35 L969.5 337.26 L969.72 336.49 L970.7 331.35 L971.34 331.44 L972.96 334.46 L973 334.47 L974.58 331.02 L974.75 330.95 L976.2 332.79 L977.7 332.1 L977.82 331.94 L979.44 332.56 L980.6 331 L981.06 331.1 L982.68 334.26 L982.9 334.31 L984.3 334.52 L985.8 337.35 L985.92 337.29 L987.54 333.78 L987.6 333.75 L989.16 338.31 L989.3 338.48 L990.78 335.8 L991.1 335.78 L992.4 337.52 L993.4 337.14 L994.02 336.92 L995.64 339.14 L995.75 339.1 L997.26 334.78 L997.5 334.51 L998.88 337.44 L999.8 337.8 L1000.5 338.22 L1002.12 341.98 L1002.2 342.03 L1003.74 335.99 L1003.9 335.64 L1005.36 339.07 L1006.25 339.63 L1006.98 339.9 L1008.6 343.3 L1010.22 339.66 L1010.3 339.62 L1011.84 341.85 L1013.3 341.44 L1013.46 341.43 L1015.08 344.11 L1016.2 344.03 L1016.7 344.01 L1018.32 346.75 L1019.1 346.73 L1019.94 346.62 L1021.4 348.96 L1021.56 349.29 L1023.18 349.85 L1024.3 352.17 L1024.8 349.69 L1026.3 339.65 L1026.42 339.75 L1028.04 343.85 L1028.4 344.14 L1029.66 345.22 L1030.75 348.04 L1031.28 348.17 L1032.5 346.35 L1032.9 346.5 L1034.52 349.95 L1034.8 350.06 L1036.14 349.24 L1037.6 350.86" fill="none" stroke="#000" stroke-width="2.08" stroke-linejoin="round" stroke-linecap="square"/>
<path d="M150.5 72V534.5M1080.5 72V534.5M150 534.5H1081M150 72.5H1081" fill="none" stroke="#000" stroke-width="1.11"/>
<path d="M192.5 534V539.5 M362.5 534V539.5 M531.5 534V539.5 M700.5 534V539.5 M869.5 534V539.5 M1039.5 534V539.5 M150 488.5H145.5 M150 395.5H145.5 M150 303.5H145.5 M150 211.5H145.5 M150 118.5H145.5" fill="none" stroke="#000" stroke-width="1.11"/>
<rect x="901.5" y="79.5" width="172" height="46" rx="2.78" fill="#fff" fill-opacity="0.8" stroke="#ccc" stroke-opacity="0.8" stroke-width="1.39"/>
<path d="M906 91H934" stroke="#000" stroke-width="2.08" stroke-linecap="square"/>
<rect x="906.5" y="107.5" width="28" height="9" fill="#808080" fill-opacity="0.4" stroke="#808080" stroke-opacity="0.4" stroke-width="1.39"/>
<text x="192.02" y="554.53" text-anchor="middle" style="font-family:'DejaVu Sans','Liberation Sans',sans-serif;font-size:13.889px">30</text>
<text x="361.05" y="554.53" text-anchor="middle" style="font-family:'DejaVu Sans','Liberation Sans',sans-serif;font-size:13.889px">40</text>
<text x="529.96" y="554.53" text-anchor="middle" style="font-family:'DejaVu Sans','Liberation Sans',sans-serif;font-size:13.889px">50</text>
<text x="699.74" y="554.53" text-anchor="middle" style="font-family:'DejaVu Sans','Liberation Sans',sans-serif;font-size:13.889px">60</text>
<text x="869.01" y="554.53" text-anchor="middle" style="font-family:'DejaVu Sans','Liberation Sans',sans-serif;font-size:13.889px">70</text>
<text x="1038.8" y="554.53" text-anchor="middle" style="font-family:'DejaVu Sans','Liberation Sans',sans-serif;font-size:13.889px">80</text>
<text x="140.53" y="492.58" text-anchor="end" style="font-family:'DejaVu Sans','Liberation Sans',sans-serif;font-size:13.889px">0.6</text>
<text x="140.53" y="400.55" text-anchor="end" style="font-family:'DejaVu Sans','Liberation Sans',sans-serif;font-size:13.889px">0.8</text>
<text x="140.03" y="308.03" text-anchor="end" style="font-family:'DejaVu Sans','Liberation Sans',sans-serif;font-size:13.889px">1.0</text>
<text x="140.53" y="215.5" text-anchor="end" style="font-family:'DejaVu Sans','Liberation Sans',sans-serif;font-size:13.889px">1.2</text>
<text x="140.53" y="123.6" text-anchor="end" style="font-family:'DejaVu Sans','Liberation Sans',sans-serif;font-size:13.889px">1.4</text>
<text x="615.38" y="573.52" text-anchor="middle" style="font-family:'DejaVu Sans','Liberation Sans',sans-serif;font-size:13.889px">Frequency (MHz)</text>
<text transform="translate(108.5 304.25) rotate(-90)" text-anchor="middle" style="font-family:'DejaVu Sans','Liberation Sans',sans-serif;font-size:13.889px">Normalized Power</text>
<text x="239.16" y="63.67" text-anchor="start" style="font-family:'DejaVu Sans','Liberation Sans',sans-serif;font-size:16.667px" textLength="752.65" lengthAdjust="spacing">2024-05-05 - Cor 234 - LWA157 - Pol YY - Normalized Spectrum (Median power=20.5 CPU)</text>
<text x="945.01" y="94.55" text-anchor="start" style="font-family:'DejaVu Sans','Liberation Sans',sans-serif;font-size:13.889px">Median Spectrum</text>
<text x="945.01" y="115.56" text-anchor="start" style="font-family:'DejaVu Sans','Liberation Sans',sans-serif;font-size:13.889px">Median Abs. Dev.</text>
</svg>
</body></html>
